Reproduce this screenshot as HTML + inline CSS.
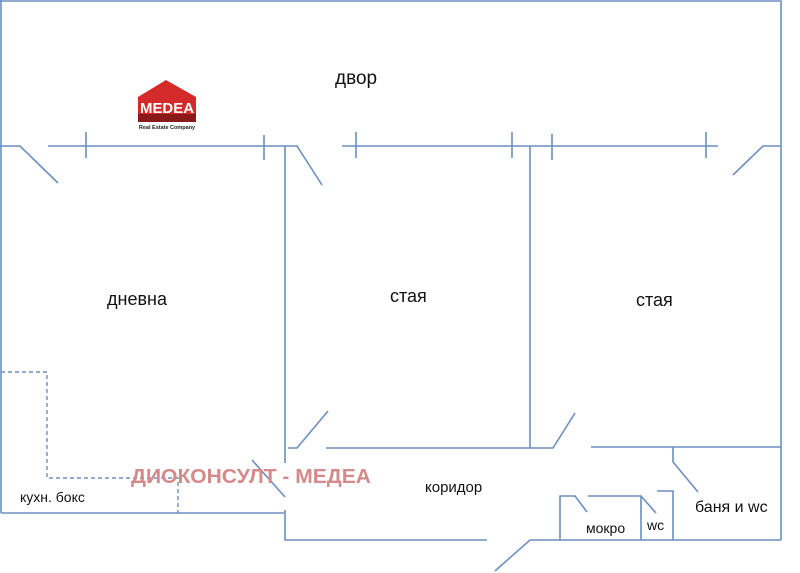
<!DOCTYPE html>
<html><head><meta charset="utf-8"><style>
html,body{margin:0;padding:0;background:#fff;}
svg{display:block}
text{font-family:"Liberation Sans","DejaVu Sans",sans-serif;fill:#111}
</style></head><body>
<svg width="800" height="573" viewBox="0 0 800 573" xmlns="http://www.w3.org/2000/svg">
<g stroke="#6b8fbf" stroke-width="1.6" fill="none">
<path d="M0 1H781V540M1 0V513"/>
<path d="M0 146H20L58 183"/>
<path d="M48 146H297L322 185M86 132V158M264 135V160"/>
<path d="M285 146V463M285 510V540H487M252 460L285 497"/>
<path d="M342 146H718M356 132V158M512 132V158M552 134V160M706 132V158"/>
<path d="M530 146V448M326 448H530H553L575 413M288 448H297L328 411"/>
<path d="M733 175L763 146H781M591 447H781"/>
<path d="M673 447V462L698 492M657 491H673V540M495 571L530 540H781"/>
<path d="M560 540V496H575L587 512M588 496H641V540M641 496L656 513"/>
<path d="M1 513H284"/>
</g>
<g stroke="#6b8fbf" stroke-width="1.4" fill="none" stroke-dasharray="4,3">
<path d="M1 372H47V478H178V513"/>
</g>
<g>
<polygon points="138,97 166,80 196,97 196,122 138,122" fill="#d42a2a"/>
<rect x="138" y="114" width="58" height="8" fill="#8a1a1a"/>
<text x="167" y="113" text-anchor="middle" font-size="15" font-weight="bold" textLength="54" lengthAdjust="spacingAndGlyphs" style="fill:#fff">MEDEA</text>
<text x="167" y="129" text-anchor="middle" font-size="5.5" font-weight="bold" style="fill:#222">Real Estate Company</text>
</g>
<text x="335" y="84" font-size="19">двор</text>
<text x="107" y="305" font-size="18">дневна</text>
<text x="390" y="302" font-size="18">стая</text>
<text x="636" y="306" font-size="18">стая</text>
<text x="20" y="502" font-size="14">кухн. бокс</text>
<text x="425" y="492" font-size="15">коридор</text>
<text x="586" y="533" font-size="14">мокро</text>
<text x="647" y="530" font-size="14">wc</text>
<text x="695" y="512" font-size="16">баня и wc</text>
<text x="131" y="483" font-size="20" font-weight="bold" textLength="240" lengthAdjust="spacingAndGlyphs" style="fill:#d48a8a">ДИОКОНСУЛТ - МЕДЕА</text>
</svg>
</body></html>
